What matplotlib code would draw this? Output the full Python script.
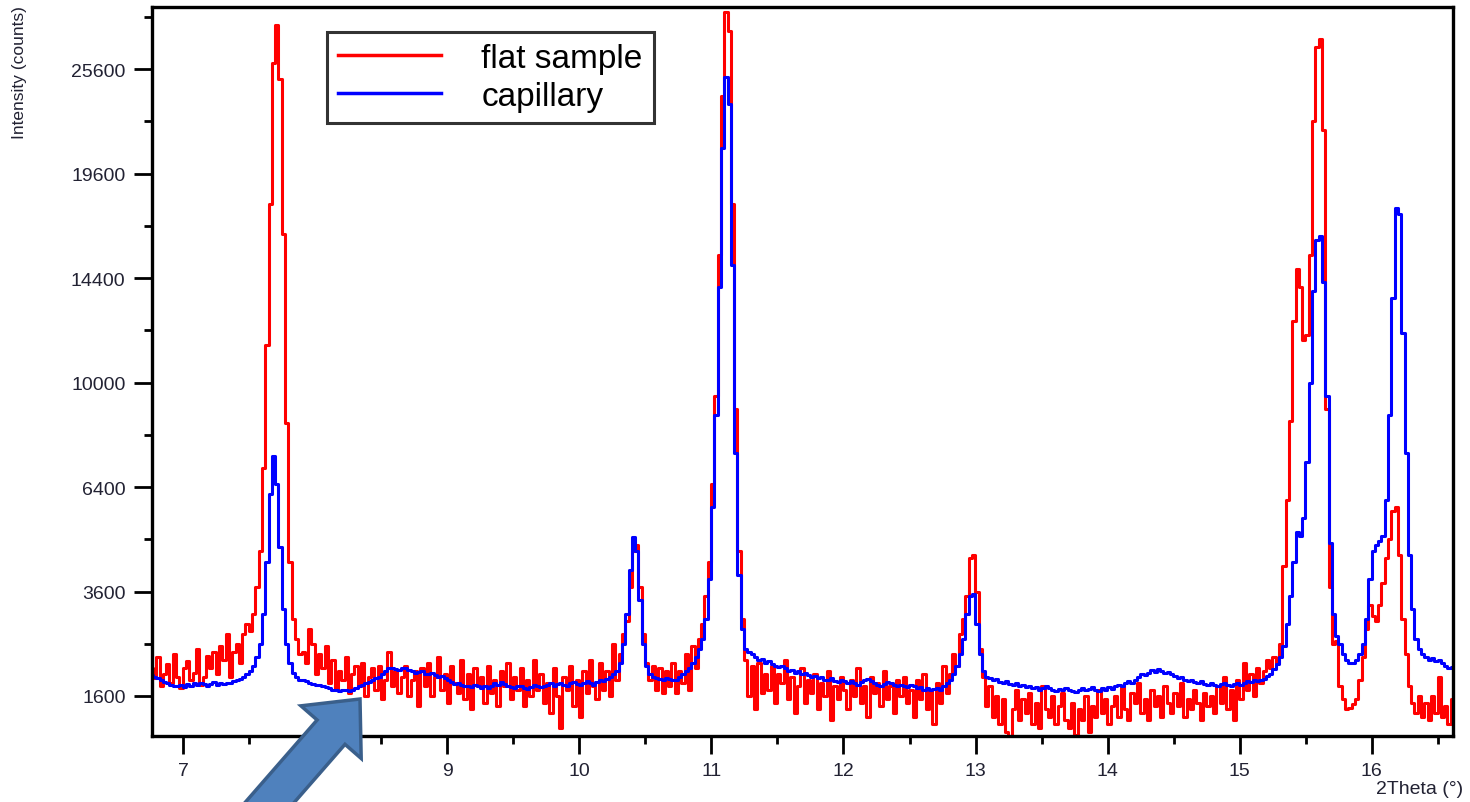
import numpy as np
import matplotlib
matplotlib.use("Agg")
import matplotlib.pyplot as plt
from matplotlib.patches import FancyArrow
from matplotlib.transforms import IdentityTransform

plt.rcParams["font.family"] = ["Liberation Sans", "DejaVu Sans"]

# Scan grid (degrees 2Theta)
two_theta_start = 6.76
two_theta_step = 0.025

# Intensities (counts), one value per scan step
flat_sample = [
    2050, 1880, 2250, 1760, 1950, 2120, 1800, 2300, 1900, 1720,
    2060, 2180, 1850, 1980, 2400, 1780, 1900, 2280, 2050, 2350,
    1950, 2450, 2200, 2700, 1900, 2350, 2500, 2150, 2700, 2900,
    2750, 3100, 3700, 4600, 7000, 11500, 18000, 26000, 28400, 25000,
    16500, 8500, 4300, 3000, 2600, 2300, 2350, 2150, 2800, 2500,
    1950, 2300, 2050, 2450, 1800, 2200, 1700, 2000, 1850, 2250,
    1650, 1950, 2100, 1750, 2150, 1600, 1900, 2050, 1700, 2100,
    1550, 1850, 2350, 1750, 2000, 1650, 1900, 2100, 1600, 1850,
    2000, 1450, 2050, 1750, 2150, 1600, 1900, 2250, 1700, 1950,
    1500, 2100, 1800, 1650, 2200, 1550, 1950, 1400, 2050, 1750,
    1900, 1500, 2100, 1650, 1850, 1450, 2000, 1750, 2150, 1550,
    1900, 1700, 2050, 1450, 1850, 1600, 2200, 1700, 1950, 1500,
    1800, 1350, 2050, 1600, 1150, 1900, 1700, 2100, 1450, 1850,
    1300, 2000, 1650, 2200, 1750, 1550, 2150, 1700, 2000, 1600,
    2500, 1850, 2300, 2700, 2950, 3700, 4600, 4750, 3700, 2700,
    2150, 1850, 2100, 1700, 2050, 1650, 2000, 1750, 2150, 1650,
    2000, 1800, 2300, 1700, 2450, 2050, 2600, 2900, 3500, 4300,
    6500, 9500, 15500, 24000, 29200, 28000, 18000, 9000, 4600, 3000,
    2200, 1600, 2100, 1400, 2150, 1650, 1950, 1700, 2100, 1500,
    1950, 1800, 2200, 1550, 1900, 1350, 1750, 2050, 1500, 1850,
    1650, 1950, 1400, 1800, 1600, 2000, 1250, 1750, 1550, 1900,
    1700, 1400, 1850, 1600, 2050, 1500, 1750, 1300, 1900, 1650,
    1800, 1450, 2000, 1550, 1750, 1350, 1850, 1600, 1900, 1500,
    1700, 1300, 1850, 1550, 1950, 1400, 1700, 1200, 1800, 1500,
    2100, 1650, 1950, 2300, 2100, 2700, 3000, 3500, 4400, 4500,
    3600, 2400, 1900, 1450, 1750, 1300, 1600, 1200, 1550, 1100,
    1050, 1400, 1700, 1250, 1550, 1350, 1650, 1200, 1500, 1150,
    1750, 1400, 1300, 1600, 1200, 1450, 1650, 1250, 1150, 1500,
    1060, 1400, 1250, 1600, 1100, 1450, 1300, 1700, 1350, 1550,
    1200, 1450, 1600, 1300, 1750, 1400, 1250, 1650, 1500, 1800,
    1350, 1550, 1250, 1700, 1450, 1600, 1300, 1750, 1500, 1350,
    1650, 1450, 1800, 1300, 1550, 1400, 1700, 1500, 1250, 1650,
    1450, 1600, 1350, 1750, 1500, 1900, 1400, 1700, 1250, 1850,
    1550, 2150, 1700, 1950, 1600, 2050, 1800, 2000, 2200, 2050,
    2250, 2150, 2500, 4200, 6000, 8600, 12500, 14800, 14000, 11700,
    11900, 15500, 22500, 27000, 27500, 22000, 9000, 3700, 2500, 2550,
    1750, 1550, 1400, 1420, 1480, 1550, 1850, 2250, 2800, 3300,
    3050, 2950, 3300, 3800, 4400, 4900, 5700, 5800, 4500, 3000,
    2300, 1750, 1500, 1350, 1600, 1300, 1500, 1250, 1600, 1350,
    1900, 1300, 1450, 1200, 1550,
]

capillary = [
    1940, 1900, 1880, 1850, 1820, 1800, 1780, 1760, 1750, 1770,
    1740, 1790, 1760, 1800, 1770, 1810, 1790, 1750, 1790, 1820,
    1780, 1800, 1790, 1810, 1800, 1830, 1850, 1870, 1900, 1950,
    2000, 2100, 2250, 2500, 3100, 4300, 6200, 7400, 6500, 4700,
    3200, 2500, 2150, 1980, 1900, 1860, 1850, 1830, 1800, 1790,
    1770, 1780, 1750, 1740, 1720, 1700, 1690, 1680, 1690, 1700,
    1680, 1690, 1720, 1750, 1780, 1800, 1820, 1850, 1880, 1900,
    1960, 2000, 2050, 2060, 2040, 2020, 2050, 2060, 2030, 2000,
    1980, 1990, 2000, 1960, 1950, 1970, 1930, 1900, 1920, 1880,
    1850, 1820, 1790, 1800, 1770, 1750, 1760, 1740, 1780, 1760,
    1730, 1750, 1720, 1760, 1800, 1780, 1820, 1790, 1760, 1740,
    1720, 1750, 1760, 1730, 1710, 1740, 1780, 1760, 1740, 1760,
    1780, 1800, 1760, 1790, 1810, 1780, 1760, 1800, 1820, 1790,
    1770, 1810, 1840, 1800, 1780, 1820, 1850, 1830, 1870, 1900,
    1950, 2000, 2150, 2500, 3100, 4100, 4950, 4600, 3400, 2500,
    2100, 1950, 1900, 1880, 1870, 1860, 1880, 1870, 1850, 1860,
    1900, 1950, 2000, 2050, 2150, 2250, 2400, 2600, 3000, 3900,
    5800, 8800, 14000, 21000, 25100, 23500, 15000, 7500, 4000, 2800,
    2400, 2350, 2300, 2250, 2200, 2220, 2150, 2180, 2120, 2100,
    2080, 2100, 2050, 2000, 2020, 1980, 2000, 1950, 1970, 1930,
    1900, 1920, 1880, 1900, 1860, 1850, 1880, 1840, 1820, 1860,
    1830, 1800, 1840, 1810, 1780, 1820, 1850, 1870, 1830, 1800,
    1780, 1760, 1790, 1820, 1800, 1770, 1750, 1780, 1760, 1740,
    1770, 1750, 1720, 1740, 1700, 1720, 1690, 1710, 1730, 1700,
    1760, 1800, 1850, 1950, 2100, 2300, 2600, 3100, 3500, 3550,
    2900, 2300, 2000, 1900, 1880, 1850, 1870, 1820, 1800, 1830,
    1790, 1770, 1800, 1760, 1780, 1740, 1760, 1720, 1740, 1700,
    1730, 1750, 1720, 1700, 1680, 1710, 1690, 1730, 1700, 1680,
    1660, 1700, 1720, 1690, 1710, 1740, 1700, 1680, 1720, 1700,
    1740, 1710, 1750, 1780, 1760, 1800, 1830, 1810, 1860, 1900,
    1950, 1930, 1980, 2020, 1990, 2040, 2000, 1970, 1990, 1950,
    1920, 1890, 1900, 1860, 1840, 1860, 1820, 1800, 1830, 1790,
    1770, 1800, 1780, 1760, 1790, 1810, 1780, 1760, 1790, 1810,
    1780, 1800, 1830, 1820, 1850, 1840, 1860, 1870, 1920, 1960,
    2040, 2120, 2250, 2450, 2900, 3500, 4300, 5100, 5000, 5500,
    7200, 10000, 13800, 16200, 16400, 14200, 9500, 4800, 3100, 2650,
    2500, 2300, 2200, 2150, 2150, 2200, 2300, 2500, 3000, 3900,
    4600, 4750, 4850, 5000, 6000, 8800, 13500, 17800, 17500, 12000,
    7500, 4500, 3200, 2600, 2400, 2300, 2250, 2200, 2230, 2180,
    2200, 2150, 2100, 2050, 2080,
]

series_labels = ["flat sample", "capillary"]
series_colors = ["#ff0000", "#0000ff"]

y_major_ticks = [1600, 3600, 6400, 10000, 14400, 19600, 25600]
y_minor_ticks = [2500, 4900, 8100, 12100, 16900, 22500, 28900]
x_major_ticks = [7, 8, 9, 10, 11, 12, 13, 14, 15, 16]
x_minor_ticks = [7.5, 8.5, 9.5, 10.5, 11.5, 12.5, 13.5, 14.5, 15.5, 16.5]

fig = plt.figure(figsize=(14.7, 8.03), dpi=100)
ax = fig.add_axes([0.1034, 0.0822, 0.8850, 0.9078])

ax.set_yscale("function",
              functions=(lambda v: np.sqrt(np.clip(v, 0, None)),
                         lambda s: np.square(s)))

for values, label, color in zip([flat_sample, capillary], series_labels, series_colors):
    x = two_theta_start + two_theta_step * np.arange(len(values))
    ax.plot(x, values, drawstyle="steps-mid", color=color, lw=2.2, label=label)

ax.set_xlim(6.765, 16.614)
ax.set_ylim(1046, 29550)

ax.set_yticks(y_major_ticks)
ax.set_yticklabels([str(v) for v in y_major_ticks])
ax.set_yticks(y_minor_ticks, minor=True)
ax.set_xticks(x_major_ticks)
ax.set_xticklabels([str(v) for v in x_major_ticks])
ax.set_xticks(x_minor_ticks, minor=True)

ax.tick_params(axis="both", which="major", direction="out", length=13, width=2,
               labelsize=14, labelcolor="#222233", pad=6)
ax.tick_params(axis="both", which="minor", direction="out", length=6, width=2)
ax.tick_params(top=False, right=False)
for side in ["left", "bottom", "top", "right"]:
    ax.spines[side].set_linewidth(2.4)
    ax.spines[side].set_color("black")

fig.text(20 / 1470, 1 - 73 / 803, "Intensity (counts)", rotation=90,
         ha="center", va="center", fontsize=12.5, color="#222233")
fig.text(1463 / 1470, 1 - 790 / 803, "2Theta (°)", ha="right", va="center",
         fontsize=14, color="#222233")

leg = ax.legend(loc="upper left", bbox_to_anchor=(0.1345, 0.9657), borderaxespad=0,
                fontsize=24, frameon=True, fancybox=False, handlelength=3.1,
                handletextpad=1.2, labelspacing=0.2, borderpad=0.33)
leg.get_frame().set_edgecolor("black")
leg.get_frame().set_linewidth(2.2)
for line in leg.get_lines():
    line.set_linewidth(2.5)

# Callout arrow in figure pixel space
arrow = FancyArrow(250, -23, 110, 126, width=37, head_width=80, head_length=44,
                   length_includes_head=True, transform=IdentityTransform(),
                   facecolor="#4f81bd", edgecolor="#3a5f8b", linewidth=2.5, zorder=5)
fig.add_artist(arrow)

fig.savefig("out.png", dpi=100)
